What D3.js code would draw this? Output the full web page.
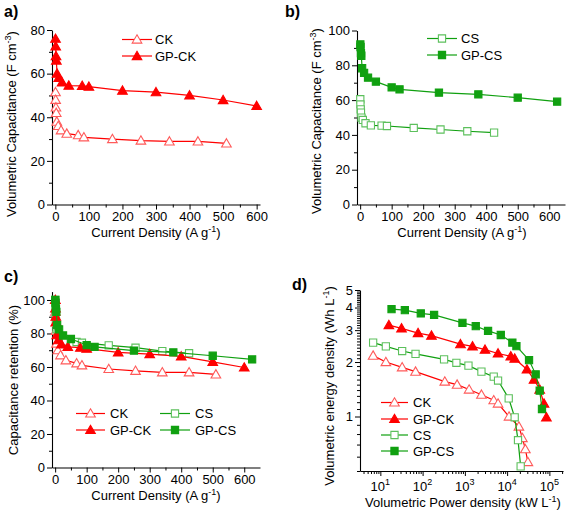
<!DOCTYPE html>
<html><head><meta charset="utf-8">
<script src="https://cdn.jsdelivr.net/npm/d3@7"></script>
<style>
body{margin:0;background:#fff}
svg{display:block}
text{font-family:"Liberation Sans",Arial,sans-serif;fill:#000}
</style>
</head><body>
<svg id="chart" width="567" height="510"></svg>
<script>
// ---------- data ----------
// panel a: CK / GP-CK volumetric capacitance vs current density
const ckX   = [0.425, 0.85, 1.7, 2.55, 4.25, 8.5, 17, 34, 68, 85, 170, 255, 340, 425, 510];
const ckVol = [51.5, 48, 44.5, 42, 38, 36, 34, 32.5, 31.8, 30.8, 30, 29.3, 28.9, 28.9, 28];
const gpckX   = [0.5, 1, 2, 3, 5, 10, 20, 40, 80, 100, 200, 300, 400, 500, 600];
const gpckVol = [76, 72.5, 68, 66, 60, 58, 56, 54.5, 54.4, 54, 52.2, 51.5, 50, 47.9, 45.2];
// panel b: CS / GP-CS
const csX   = [0.425, 0.85, 1.7, 2.55, 4.25, 8.5, 17, 34, 68, 85, 170, 255, 340, 425];
const csVol = [60.5, 57.5, 54.7, 52.8, 49.9, 48.6, 46.7, 45.5, 45.3, 45.1, 44, 43.1, 42.1, 41.3];
const gpcsX   = [0.625, 1.25, 2.5, 3.75, 6.25, 12.5, 25, 50, 100, 125, 250, 375, 500, 625];
const gpcsVol = [92, 90.5, 87, 85.5, 78.3, 75.7, 72.9, 70.6, 67.3, 66.2, 64.3, 63.3, 61.4, 59.1];
// panel c: capacitance retention (%)
const ckRet   = [100, 93, 86.5, 81.5, 74, 70, 67, 64, 62.2, 61, 58.8, 57.7, 56.8, 56.8, 55.6];
const gpckRet = [100, 95, 90, 87, 79, 76, 73.5, 72, 71.5, 71, 68.7, 67.7, 66.3, 63.1, 59.7];
const csRet   = [100, 95, 90.5, 87.3, 82.5, 80.3, 77.2, 75.2, 74.9, 74.5, 72.9, 71.5, 69.5, 68.2];
const gpcsRet = [100, 98.4, 94.6, 92.9, 85.1, 82.4, 78.8, 76.7, 73.1, 72, 69.8, 68.7, 66.7, 64.5];
// panel d: Ragone plot
const ckP   = [6.75, 13.5, 32.8, 68, 335, 655, 1260, 2470, 4820, 6100, 11100, 19000, 23000, 27000, 31000];
const ckE   = [2.17, 2.0, 1.87, 1.77, 1.56, 1.5, 1.41, 1.32, 1.23, 1.18, 1.0, 0.88, 0.76, 0.66, 0.56];
const gpckP = [15.9, 31.7, 78, 162, 787, 1516, 3000, 6100, 12200, 15100, 29500, 43300, 59000, 74600, 85000];
const gpckE = [3.2, 3.07, 2.89, 2.8, 2.51, 2.44, 2.34, 2.23, 2.15, 2.09, 1.82, 1.6, 1.41, 1.18, 0.99];
const csP   = [6.75, 13.5, 32.8, 68, 322, 630, 1216, 2466, 4820, 6100, 10900, 15100, 18100, 20900];
const csE   = [2.56, 2.44, 2.3, 2.22, 2.07, 1.98, 1.91, 1.77, 1.66, 1.58, 1.26, 0.99, 0.74, 0.53];
const gpcsP = [18.4, 38, 90.6, 187, 877, 1811, 3540, 7080, 13300, 16600, 33000, 47400, 59000, 66800];
const gpcsE = [3.92, 3.87, 3.71, 3.64, 3.29, 3.16, 2.97, 2.82, 2.56, 2.45, 2.05, 1.71, 1.39, 1.10];

const linTicks = [0, 100, 200, 300, 400, 500, 600];
const logXTicks = [1, 2, 3, 4, 5];
const logYTicks = [1, 2, 3, 4, 5];

// ---------- styles ----------
const RED = "#ff0000", RED_OPEN = "#ff5a5a", GREEN = "#10a010", GREEN_OPEN = "#5cc05c";
const styles = {
  "CK":    {line: RED,   stroke: RED_OPEN,   fill: "#fff",  sym: d3.symbolTriangle},
  "GP-CK": {line: RED,   stroke: RED,        fill: RED,     sym: d3.symbolTriangle},
  "CS":    {line: GREEN, stroke: GREEN_OPEN, fill: "#fff",  sym: d3.symbolSquare},
  "GP-CS": {line: GREEN, stroke: GREEN,      fill: GREEN,   sym: d3.symbolSquare}
};
const symSize = s => s === d3.symbolTriangle ? 40 : 52;

const svg = d3.select("#chart");

function zip(a, b) { return a.map((v, i) => [v, b[i]]); }

function marker(g, name, x, y) {
  const st = styles[name];
  const dy = st.sym === d3.symbolTriangle ? 0.8 : 0;
  g.append("path")
    .attr("d", d3.symbol().type(st.sym).size(symSize(st.sym))())
    .attr("transform", `translate(${x},${y + dy})`)
    .attr("fill", st.fill).attr("stroke", st.stroke).attr("stroke-width", 1.1);
}

function drawSeries(g, name, pts, x, y) {
  const st = styles[name];
  g.append("path").datum(pts)
    .attr("d", d3.line().x(d => x(d[0])).y(d => y(d[1])))
    .attr("fill", "none").attr("stroke", st.line).attr("stroke-width", 1.2);
  pts.forEach(p => marker(g, name, x(p[0]), y(p[1])));
}

function legendItem(g, name, x1, x2, tx, yy) {
  const st = styles[name];
  g.append("line").attr("x1", x1).attr("x2", x2).attr("y1", yy).attr("y2", yy)
    .attr("stroke", st.line).attr("stroke-width", 1.2);
  marker(g, name, (x1 + x2) / 2, yy);
  g.append("text").attr("x", tx).attr("y", yy).attr("dy", "0.36em")
    .attr("font-size", 13).text(name);
}

function linearAxes(g, x, y, xMinor, yMajor, yMinor) {
  const yPix = y.range()[0], xPix = x.range()[0];
  const ax = g.append("g").attr("transform", `translate(0,${yPix})`)
    .call(d3.axisBottom(x).tickValues(linTicks).tickSize(5).tickSizeOuter(0).tickPadding(2));
  g.append("g").attr("transform", `translate(0,${yPix})`)
    .call(d3.axisBottom(x).tickValues(xMinor).tickSize(3).tickFormat("")).select(".domain").remove();
  const ay = g.append("g").attr("transform", `translate(${xPix},0)`)
    .call(d3.axisLeft(y).tickValues(yMajor).tickSize(5).tickSizeOuter(0).tickPadding(2));
  g.append("g").attr("transform", `translate(${xPix},0)`)
    .call(d3.axisLeft(y).tickValues(yMinor).tickSize(3).tickFormat("")).select(".domain").remove();
  [ax, ay].forEach(a => a.selectAll("text").attr("font-size", 13).attr("font-family", null));
  g.selectAll(".domain").attr("stroke", "#000").attr("stroke-width", 1.1);
}

function xTitle(g, cx, by, main, sup, tail) {
  const t = g.append("text").attr("x", cx).attr("y", by).attr("text-anchor", "middle").attr("font-size", 13);
  t.append("tspan").text(main);
  t.append("tspan").attr("dy", -5).attr("font-size", 9).text(sup);
  t.append("tspan").attr("dy", 5).text(tail);
}
function yTitle(g, bx, cy, main, sup, tail) {
  const t = g.append("text").attr("transform", `translate(${bx},${cy}) rotate(-90)`)
    .attr("text-anchor", "middle").attr("font-size", 13);
  t.append("tspan").text(main);
  if (sup) {
    t.append("tspan").attr("dy", -5).attr("font-size", 9).text(sup);
    t.append("tspan").attr("dy", 5).text(tail);
  }
}
function panelLabel(x, y, s) {
  svg.append("text").attr("x", x).attr("y", y).attr("font-size", 16).attr("font-weight", "bold").text(s);
}

const minor50 = d3.range(-50, 700, 50).filter(v => v % 100 !== 0);

// ---------- panel a ----------
{
  const g = svg.append("g");
  const x = d3.scaleLinear([-10, 610], [52, 260]);
  const y = d3.scaleLinear([0, 80], [204.5, 30]);
  linearAxes(g, x, y, minor50.filter(v => v > -10 && v < 610), [0, 20, 40, 60, 80], [10, 30, 50, 70]);
  drawSeries(g, "CK", zip(ckX, ckVol), x, y);
  drawSeries(g, "GP-CK", zip(gpckX, gpckVol), x, y);
  legendItem(g, "CK", 122, 152, 155, 39.5);
  legendItem(g, "GP-CK", 122, 152, 155, 56);
  xTitle(g, 156, 237, "Current Density (A g", "-1", ")");
  yTitle(g, 16, 124, "Volumetric Capacitance (F cm", "-3", ")");
  panelLabel(4, 17, "a)");
}
// ---------- panel b ----------
{
  const g = svg.append("g");
  const x = d3.scaleLinear([-10, 650], [357, 565]);
  const y = d3.scaleLinear([0, 100], [204.5, 30.5]);
  linearAxes(g, x, y, minor50.filter(v => v > -10 && v < 650), [0, 20, 40, 60, 80, 100], [10, 30, 50, 70, 90]);
  drawSeries(g, "CS", zip(csX, csVol), x, y);
  drawSeries(g, "GP-CS", zip(gpcsX, gpcsVol), x, y);
  legendItem(g, "CS", 427, 457, 461, 38.5);
  legendItem(g, "GP-CS", 427, 457, 461, 55);
  xTitle(g, 462, 237, "Current Density (A g", "-1", ")");
  yTitle(g, 321, 121, "Volumetric Capacitance (F cm", "-3", ")");
  panelLabel(285, 17, "b)");
}
// ---------- panel c ----------
{
  const g = svg.append("g");
  const x = d3.scaleLinear([-10, 650], [52, 260]);
  const y = d3.scaleLinear([0, 105], [467.5, 291.6]);
  linearAxes(g, x, y, minor50.filter(v => v > -10 && v < 650), [0, 20, 40, 60, 80, 100], [10, 30, 50, 70, 90]);
  drawSeries(g, "CK", zip(ckX, ckRet), x, y);
  drawSeries(g, "CS", zip(csX, csRet), x, y);
  drawSeries(g, "GP-CK", zip(gpckX, gpckRet), x, y);
  drawSeries(g, "GP-CS", zip(gpcsX, gpcsRet), x, y);
  legendItem(g, "CK", 76, 105, 110, 413.5);
  legendItem(g, "GP-CK", 76, 105, 110, 430);
  legendItem(g, "CS", 160, 190, 195, 413.5);
  legendItem(g, "GP-CS", 160, 190, 195, 430);
  xTitle(g, 156, 500, "Current Density (A g", "-1", ")");
  yTitle(g, 18, 380, "Capacitance retention (%)");
  panelLabel(4, 282, "c)");
}
// ---------- panel d ----------
{
  const g = svg.append("g");
  const x = d3.scaleLog([3.3, 2.1e5], [360, 563]);
  const y = d3.scaleLog([0.5, 5], [471, 290]);
  const xMinor = [];
  for (let e = 0; e <= 5; e++) for (let m = 2; m <= 9; m++) { const v = m * 10 ** e; if (v > 3.3 && v < 2.1e5) xMinor.push(v); }
  const xMajor = logXTicks.map(e => 10 ** e);
  g.append("g").attr("transform", "translate(0,471)")
    .call(d3.axisBottom(x).tickValues(xMajor).tickSize(5).tickSizeOuter(0).tickFormat(""));
  g.append("g").attr("transform", "translate(0,471)")
    .call(d3.axisBottom(x).tickValues(xMinor).tickSize(3).tickFormat("")).select(".domain").remove();
  logXTicks.forEach(e => {
    const t = g.append("text").attr("x", x(10 ** e)).attr("y", 490.5).attr("text-anchor", "middle").attr("font-size", 13);
    t.append("tspan").text("10");
    t.append("tspan").attr("dy", -6).attr("font-size", 9).text(String(e));
  });
  const yMinor = d3.range(0.5, 5.001, 0.1).map(v => +v.toFixed(1)).filter(v => !logYTicks.includes(v));
  const ay = g.append("g").attr("transform", "translate(360,0)")
    .call(d3.axisLeft(y).tickValues(logYTicks).tickSize(5).tickSizeOuter(0).tickPadding(2).tickFormat(d3.format("d")));
  ay.selectAll("text").attr("font-size", 13).attr("font-family", null);
  g.append("g").attr("transform", "translate(360,0)")
    .call(d3.axisLeft(y).tickValues(yMinor).tickSize(3).tickFormat("")).select(".domain").remove();
  g.selectAll(".domain").attr("stroke", "#000").attr("stroke-width", 1.1);
  drawSeries(g, "CK", zip(ckP, ckE), x, y);
  drawSeries(g, "CS", zip(csP, csE), x, y);
  drawSeries(g, "GP-CK", zip(gpckP, gpckE), x, y);
  drawSeries(g, "GP-CS", zip(gpcsP, gpcsE), x, y);
  legendItem(g, "CK", 381, 408, 413, 402.5);
  legendItem(g, "GP-CK", 381, 408, 413, 419);
  legendItem(g, "CS", 381, 408, 413, 435);
  legendItem(g, "GP-CS", 381, 408, 413, 451);
  xTitle(g, 463, 507, "Volumetric Power density (kW L", "-1", ")");
  yTitle(g, 334, 386, "Volumetric energy density (Wh L", "-1", ")");
  panelLabel(292, 290, "d)");
}
</script>
</body></html>
